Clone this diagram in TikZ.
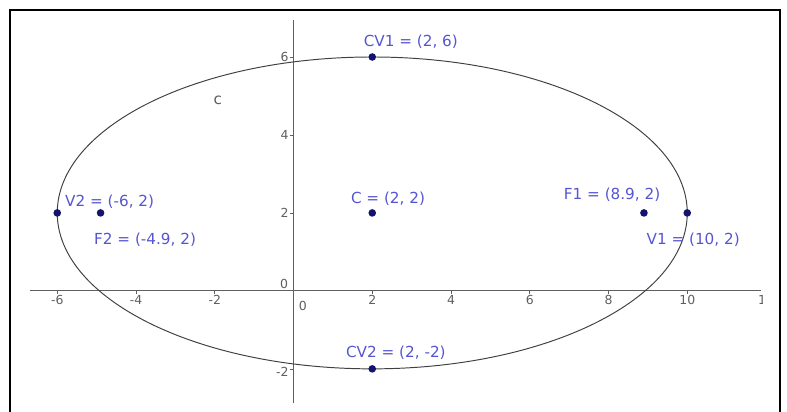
\documentclass[tikz,border=0pt]{standalone}
\usepackage{fontspec}
\setmainfont{DejaVu Sans}
\usetikzlibrary{positioning}

\definecolor{ptblue}{RGB}{20,20,110}
\definecolor{lblblue}{RGB}{85,85,210}
\definecolor{axisgray}{RGB}{95,95,95}

\begin{document}
\begin{tikzpicture}[x=1cm,y=0.99cm,
    pt/.style={circle,fill=ptblue,inner sep=0pt,minimum size=5.5pt},
    lbl/.style={text=lblblue,font=\fontsize{11}{13}\selectfont,inner sep=0pt},
    ticklbl/.style={text=axisgray,font=\fontsize{9}{11}\selectfont,inner sep=1pt}]
    \useasboundingbox (-7.454,-3.103) rectangle (12.533,7.462);

    % Frame round the view (open at the bottom)
    \draw[line width=1.4pt] (-7.2,-3.103) -- (-7.2,7.205) -- (12.356,7.205) -- (12.356,-3.103);

    % Draw x-axis and y-axis
    \draw[axisgray,line width=0.7pt] (-6.69,0) -- (11.87,0);
    \draw[axisgray,line width=0.7pt] (0,-2.87) -- (0,6.95);

    % Ticks and tick labels
    \foreach \x in {-6,-4,-2,2,4,6,8,10}
        \draw[axisgray,line width=0.5pt] (\x,0) -- (\x,-0.08) node[ticklbl,below] {\x};
    \foreach \y in {2,4,6}
        \draw[axisgray,line width=0.5pt] (0,\y) -- (-0.08,\y) node[ticklbl,left] {\y};
    \draw[axisgray,line width=0.5pt] (0,-2) -- (-0.08,-2) node[ticklbl,left,yshift=-2pt] {-2};
    \node[ticklbl] (xzero) at (0.24,-0.38) {0};
    \node[ticklbl] (yzero) at (-0.24,0.18) {0};
    \begin{scope}
        \clip (0,-1) rectangle (11.9,1);
        \node[ticklbl,below] (xtwelve) at (12,-0.08) {12};
    \end{scope}

    % Ellipse c
    \draw[black!75,line width=0.7pt] (2,2) ellipse (8 and 4);
    \node[text=axisgray,font=\fontsize{11}{13}\selectfont] (cname) at (-1.92,4.9) {c};

    % Points
    \node[pt] (C) at (2,2) {};
    \node[pt] (V1) at (10,2) {};
    \node[pt] (V2) at (-6,2) {};
    \node[pt] (F1) at (8.9,2) {};
    \node[pt] (F2) at (-4.9,2) {};
    \node[pt] (CV1) at (2,6) {};
    \node[pt] (CV2) at (2,-2) {};

    % Label the points
    \node[lbl] (Cl) at (2.4,2.36) {C = (2, 2)};
    \node[lbl] (V1l) at (10.15,1.31) {V1 = (10, 2)};
    \node[lbl] (V2l) at (-4.67,2.28) {V2 = (-6, 2)};
    \node[lbl] (F1l) at (8.09,2.46) {F1 = (8.9, 2)};
    \node[lbl] (F2l) at (-3.77,1.31) {F2 = (-4.9, 2)};
    \node[lbl] (CV1l) at (2.98,6.38) {CV1 = (2, 6)};
    \node[lbl] (CV2l) at (2.6,-1.59) {CV2 = (2, -2)};
\end{tikzpicture}
\end{document}
